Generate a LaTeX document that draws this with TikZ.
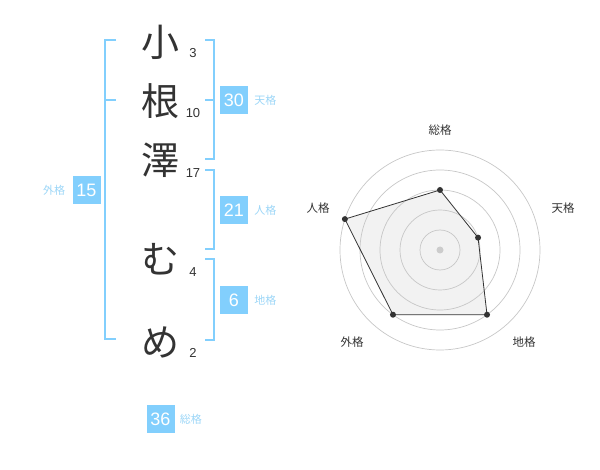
\documentclass[tikz,border=0pt]{standalone}
\usepackage{fontspec}
\setmainfont{Liberation Sans}
\newfontfamily\jp{Noto Sans CJK JP}
\usetikzlibrary{positioning}
\definecolor{kblue}{HTML}{82CFFD}
\definecolor{klabel}{HTML}{9CD6F7}
\definecolor{kink}{HTML}{333333}
\tikzstyle{kanji}=[font=\jp\fontsize{38}{38}\selectfont,text=kink,inner sep=0pt]
\tikzstyle{strokes}=[font=\fontsize{13}{13}\selectfont,text=kink,inner sep=0pt]
\tikzstyle{score}=[fill=kblue,text=white,minimum size=28pt,inner sep=0pt,font=\fontsize{18}{18}\selectfont]
\tikzstyle{kaku}=[text=klabel,font=\jp\fontsize{11}{11}\selectfont,inner sep=0pt]
\tikzstyle{brk}=[draw=kblue,line width=1.8pt]
\tikzstyle{axis}=[text=kink,font=\jp\fontsize{11.5}{11.5}\selectfont,inner sep=0pt]
\tikzstyle{ring}=[draw=black!22,line width=.7pt]
\tikzstyle{dot}=[circle,fill=kink,inner sep=0pt,minimum size=6pt]

\begin{document}
\begin{tikzpicture}[x=1pt,y=-1pt]
	\useasboundingbox (0,0) rectangle (600,470);
	% name
	\node[kanji] (c1) at (160,42)  {小};
	\node[kanji] (c2) at (160,101) {根};
	\node[kanji] (c3) at (160,160) {澤};
	\node[kanji] (c4) at (160,259) {む};
	\node[kanji] (c5) at (160,342) {め};
	\node[strokes] (n1) at (193,53)  {3};
	\node[strokes] (n2) at (193,113) {10};
	\node[strokes] (n3) at (193,173) {17};
	\node[strokes] (n4) at (193,272) {4};
	\node[strokes] (n5) at (193,353) {2};
	% brackets
	\draw[brk] (116,40) -- (105,40) -- (105,339) -- (116,339);
	\draw[brk] (105,100) -- (116,100);
	\draw[brk] (205,40) -- (214,40) -- (214,159) -- (205,159);
	\draw[brk] (214,100) -- (205,100);
	\draw[brk] (205,170) -- (214,170) -- (214,249) -- (205,249);
	\draw[brk] (205,259) -- (214,259) -- (214,340) -- (205,340);
	% scores
	\node[score] (ten) at (234,100) {30};
	\node[kaku,right=6pt of ten] {天格};
	\node[score] (jin) at (234,210) {21};
	\node[kaku,right=6pt of jin] {人格};
	\node[score] (chi) at (234,300) {6};
	\node[kaku,right=6pt of chi] {地格};
	\node[score] (gai) at (86.5,190) {15};
	\node[kaku,left=7pt of gai] {外格};
	\node[score] (sou) at (160.5,419) {36};
	\node[kaku,right=5pt of sou] {総格};
	% radar
	\begin{scope}[shift={(440,250)}]
		\coordinate (p1) at (-90:60);
		\coordinate (p2) at (-18:40);
		\coordinate (p3) at (54:80);
		\coordinate (p4) at (126:80);
		\coordinate (p5) at (-162:100);
		\fill[black!5] (p1) -- (p2) -- (p3) -- (p4) -- (p5) -- cycle;
		\foreach \r in {20,40,60,80,100}
			\draw[ring] (0,0) circle (\r);
		\fill[black!20] (0,0) circle (3.5);
		\draw[kink,line width=.8pt] (p1) -- (p2) -- (p3) -- (p4) -- (p5) -- cycle;
		\foreach \p in {p1,p2,p3,p4,p5}
			\node[dot] at (\p) {};
		\node[axis] (a1) at (0,-120)  {総格};
		\node[axis] (a2) at (123,-42) {天格};
		\node[axis] (a3) at (84,92)   {地格};
		\node[axis] (a4) at (-88,92)  {外格};
		\node[axis] (a5) at (-122,-42) {人格};
	\end{scope}
\end{tikzpicture}
\end{document}
